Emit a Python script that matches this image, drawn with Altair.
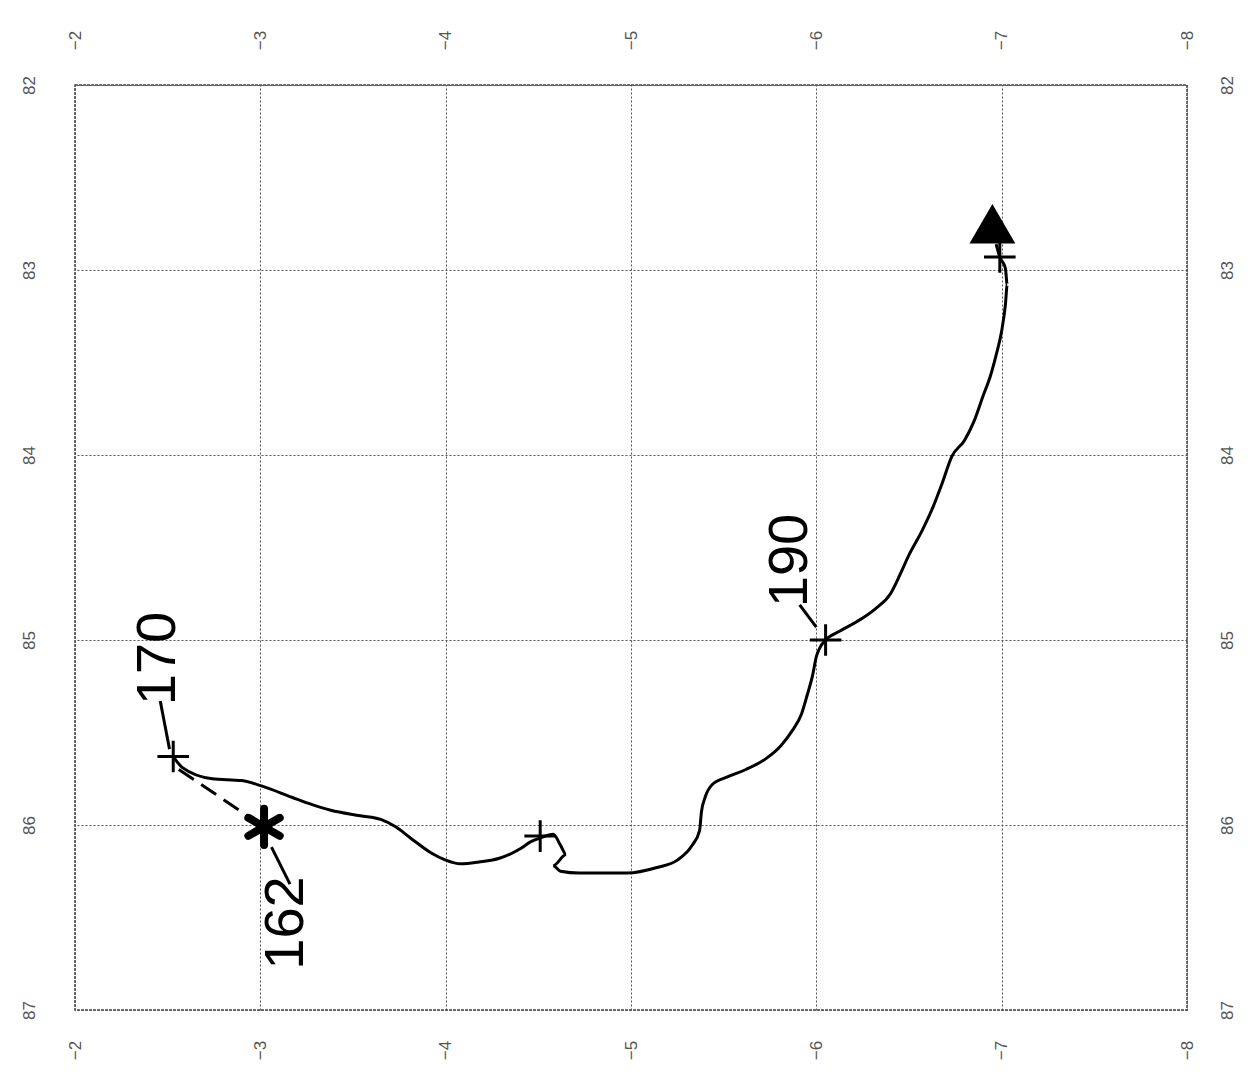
import altair as alt
import pandas as pd

# ---- data ----
x_ticks = [-2, -3, -4, -5, -6, -7, -8]
y_ticks = [82, 83, 84, 85, 86, 87]

track_x = [-2.53, -2.58, -2.74, -2.90, -3.01, -3.17, -3.28, -3.38, -3.54, -3.65,
           -3.73, -3.81, -3.92, -4.00, -4.08, -4.18, -4.29, -4.40, -4.46, -4.51,
           -4.58, -4.62, -4.65, -4.58, -4.62, -4.72, -4.88, -4.98, -5.14, -5.25,
           -5.33, -5.37, -5.38, -5.40, -5.44, -5.52, -5.62, -5.73, -5.81, -5.87,
           -5.92, -5.95, -5.98, -6.00, -6.02, -6.05, -6.13, -6.22, -6.32, -6.40,
           -6.45, -6.50, -6.57, -6.63, -6.68, -6.73, -6.80, -6.85, -6.90, -6.94,
           -6.97, -7.00, -7.02, -7.03, -7.02, -6.99, -6.97]
track_y = [85.63, 85.69, 85.75, 85.76, 85.79, 85.85, 85.89, 85.92, 85.95, 85.97,
           86.01, 86.07, 86.15, 86.19, 86.21, 86.20, 86.18, 86.13, 86.09, 86.07,
           86.05, 86.11, 86.16, 86.22, 86.25, 86.26, 86.26, 86.26, 86.23, 86.19,
           86.11, 86.03, 85.93, 85.85, 85.78, 85.74, 85.70, 85.64, 85.57, 85.49,
           85.40, 85.30, 85.19, 85.09, 85.04, 85.00, 84.95, 84.90, 84.83, 84.75,
           84.65, 84.54, 84.41, 84.28, 84.15, 84.01, 83.92, 83.82, 83.68, 83.57,
           83.46, 83.33, 83.19, 83.08, 82.99, 82.93, 82.86]

dash_x = [-2.56, -3.02]
dash_y = [85.70, 86.01]

plus_x = [-2.53, -4.51, -6.05, -6.99]
plus_y = [85.63, 86.06, 85.00, 82.93]

star_x = [-3.02]
star_y = [86.01]

tri_x = [-6.95]
tri_y = [82.75]

label_text = ["170", "162", "190"]
label_x = [-2.45, -3.14, -5.86]
label_y = [85.10, 86.53, 84.57]

leader_x = [-2.46, -3.06, -5.91]
leader_y = [85.33, 86.12, 84.81]
leader_x2 = [-2.51, -3.16, -6.00]
leader_y2 = [85.59, 86.32, 84.93]

# ---- tables ----
track = pd.DataFrame({"x": track_x, "y": track_y, "i": list(range(len(track_x)))})
dash = pd.DataFrame({"x": dash_x, "y": dash_y, "i": [0, 1]})
plus = pd.DataFrame({"x": plus_x, "y": plus_y})
star = pd.DataFrame({"x": star_x, "y": star_y})
tri = pd.DataFrame({"x": tri_x, "y": tri_y})
labels = pd.DataFrame({"x": label_x, "y": label_y, "t": label_text})
leaders = pd.DataFrame({"x": leader_x, "y": leader_y, "x2": leader_x2, "y2": leader_y2})

xscale = alt.Scale(domain=[-8, -2], reverse=True, nice=False, zero=False)
yscale = alt.Scale(domain=[82, 87], reverse=True, nice=False, zero=False)

common_axis = dict(format="d", labelAngle=270, labelAlign="center",
                   labelBaseline="middle", ticks=False, domain=False, title=None,
                   labelFontSize=17, labelColor="#555", labelFont="Liberation Sans")


def ax(orient, values, pad, grid):
    kw = dict(orient=orient, values=values, labelPadding=pad, grid=grid, **common_axis)
    if grid:
        kw.update(gridColor="#555", gridDash=[2, 2], gridWidth=1, gridOpacity=1)
    return alt.Axis(**kw)


track_line = alt.Chart(track).mark_line(color="black", strokeWidth=3, interpolate="monotone").encode(
    x=alt.X("x:Q", scale=xscale, axis=ax("bottom", x_ticks, 40, True)),
    y=alt.Y("y:Q", scale=yscale, axis=ax("left", y_ticks, 46, True)),
    order="i:Q",
)

dash_line = alt.Chart(dash).mark_line(color="black", strokeWidth=3, strokeDash=[18, 9]).encode(
    x=alt.X("x:Q", scale=xscale), y=alt.Y("y:Q", scale=yscale), order="i:Q"
)

plus_pts = alt.Chart(plus).mark_point(
    shape="M-1,0L1,0M0,-1L0,1", size=1000, filled=False, color="black", strokeWidth=3, opacity=1
).encode(x=alt.X("x:Q", scale=xscale), y=alt.Y("y:Q", scale=yscale))

star_pt = alt.Chart(star).mark_point(
    shape="M0,-1L0,1M-0.87,-0.5L0.87,0.5M-0.87,0.5L0.87,-0.5", size=1300, filled=False,
    color="black", strokeWidth=8, strokeCap="round", opacity=1
).encode(x=alt.X("x:Q", scale=xscale), y=alt.Y("y:Q", scale=yscale))

tri_pt = alt.Chart(tri).mark_point(
    shape="triangle-up", size=2100, filled=True, color="black", opacity=1
).encode(
    x=alt.X("x:Q", scale=xscale, axis=ax("top", x_ticks, 45, False)),
    y=alt.Y("y:Q", scale=yscale, axis=ax("right", y_ticks, 40, False)),
)

leader_rules = alt.Chart(leaders).mark_rule(color="black", strokeWidth=3).encode(
    x=alt.X("x:Q", scale=xscale), y=alt.Y("y:Q", scale=yscale), x2="x2:Q", y2="y2:Q"
)

label_marks = alt.Chart(labels).mark_text(
    angle=270, fontSize=56, font="Liberation Sans", align="center", baseline="middle", color="black"
).encode(x=alt.X("x:Q", scale=xscale), y=alt.Y("y:Q", scale=yscale), text="t:N")

base = alt.layer(track_line, dash_line, leader_rules, plus_pts, star_pt, label_marks)

chart = alt.layer(base, tri_pt).resolve_axis(x="independent", y="independent").properties(
    width=1112, height=925, autosize="none",
    padding={"left": 67, "top": 77, "right": 54, "bottom": 70},
    background="white",
).configure_view(stroke="#444", strokeDash=[3, 1], strokeWidth=1.5)

chart.save("out.html", embed_options={"renderer": "svg", "actions": False})
